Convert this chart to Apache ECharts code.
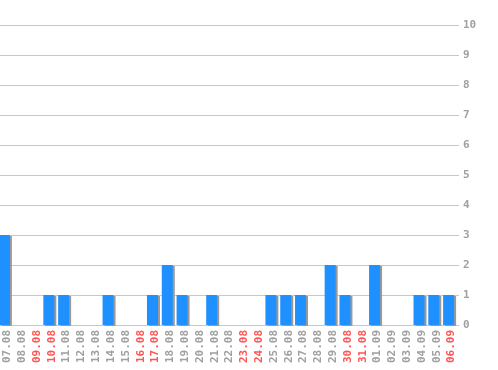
<!DOCTYPE html>
<html><head><meta charset="utf-8">
<script src="https://cdn.jsdelivr.net/npm/echarts@6/dist/echarts.min.js"></script>
<style>html,body{margin:0;padding:0;background:#fff}#c{width:498px;height:370px}</style>
</head><body><div id="c"></div>
<script>
var categories = ["07.08","08.08","09.08","10.08","11.08","12.08","13.08","14.08","15.08","16.08","17.08","18.08","19.08","20.08","21.08","22.08","23.08","24.08","25.08","26.08","27.08","28.08","29.08","30.08","31.08","01.09","02.09","03.09","04.09","05.09","06.09"];
var values = [3,0,0,1,1,0,0,1,0,0,1,2,1,0,1,0,0,0,1,1,1,0,2,1,0,2,0,0,1,1,1];
var weekend = ["09.08","10.08","16.08","17.08","23.08","24.08","30.08","31.08","06.09"];
var yTicks = [0,1,2,3,4,5,6,7,8,9,10];
var spacer = categories.map(function(){ return null; });

var chart = echarts.init(document.getElementById('c'), null, {renderer:'canvas'});
chart.setOption({
  animation:false,
  grid:{left:0, right:39, top:25, bottom:45, containLabel:false},
  xAxis:{
    type:'category', data:categories,
    axisTick:{show:false},
    axisLine:{lineStyle:{color:'#c8c8c8'}},
    axisLabel:{
      rotate:90, interval:0, margin:5,
      fontFamily:'DejaVu Sans Mono', fontWeight:'bold', fontSize:11,
      color:function(v){ return weekend.indexOf(v)>=0 ? '#ff5555' : '#a0a0a0'; }
    }
  },
  yAxis:{
    type:'value', position:'right', min:yTicks[0], max:yTicks[yTicks.length-1], interval:1,
    axisLine:{show:false}, axisTick:{show:false},
    splitLine:{lineStyle:{color:'#c8c8c8'}},
    axisLabel:{margin:4, fontFamily:'DejaVu Sans Mono', fontWeight:'bold', fontSize:11, color:'#a0a0a0'}
  },
  series:[{
    type:'bar', data:values, barWidth:11, barGap:'0%',
    itemStyle:{color:'#1e90ff', shadowColor:'#999999', shadowOffsetX:2, shadowOffsetY:1, shadowBlur:0}
  },{
    type:'bar', data:spacer, barWidth:6, silent:true,
    itemStyle:{color:'rgba(0,0,0,0)'}
  }]
});
</script></body></html>
